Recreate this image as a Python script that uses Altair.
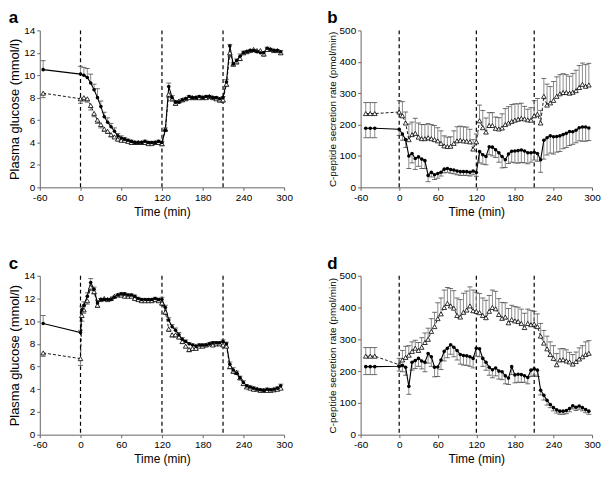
import altair as alt
import pandas as pd

# ---------------- data ----------------
T_GLU = [-55, 0, 5, 10, 15, 20, 25, 30, 35, 40, 45, 50, 55, 60, 65, 70, 75, 80, 85, 90,
         95, 100, 105, 110, 115, 120, 125, 130, 135, 140, 145, 150, 155, 160, 165, 170,
         175, 180, 185, 190, 195, 200, 205, 210, 215, 220, 225, 230, 235, 240, 245, 250,
         255, 260, 265, 270, 275, 280, 285, 290, 295]
T_C = [-55, 0, 2, 5, 10, 15, 20, 25, 30, 35, 40, 45, 50, 55, 60, 65, 70, 75, 80, 85, 90,
       95, 100, 105, 110, 115, 120, 125, 130, 135, 140, 145, 150, 155, 160, 165, 170,
       175, 180, 185, 190, 195, 200, 205, 210, 215, 220, 225, 230, 235, 240, 245, 250,
       255, 260, 265, 270, 275, 280, 285, 290, 295]
T_CP = [-52, -45, -38, 0, 5, 10, 15, 20, 25, 30, 35, 40, 45, 50, 55, 60, 65, 70, 75, 80,
        85, 90, 95, 100, 105, 110, 115, 120, 125, 130, 135, 140, 145, 150, 155, 160, 165,
        170, 175, 180, 185, 190, 195, 200, 205, 210, 215, 220, 225, 230, 235, 240, 245,
        250, 255, 260, 265, 270, 275, 280, 285, 290, 295]

# panel a: plasma glucose
A_FILLED = [10.5, 10.1, 10.0, 9.8, 9.3, 8.7, 8.0, 7.2, 6.3, 5.8, 5.4, 5.0, 4.6, 4.4, 4.3, 4.2,
            4.1, 4.0, 4.0, 4.0, 4.1, 4.0, 4.0, 4.0, 4.1, 4.0, 5.1, 9.0, 8.0, 7.6, 7.6, 7.8,
            7.9, 8.1, 8.0, 8.0, 8.1, 8.0, 8.1, 8.1, 8.0, 8.0, 7.9, 8.0, 9.4, 12.6, 11.0, 11.3,
            11.7, 12.0, 12.1, 12.2, 12.2, 12.1, 12.0, 12.0, 12.4, 12.3, 12.2, 12.2, 12.1]
A_FILLED_ERR = [0.8, 0.7, 0.7, 0.8, 0.8, 0.5, 0.8, 0.5, 0.4, 0.4, 0.3, 0.3, 0.2, 0.2, 0.15,
                0.1, 0.1, 0.1, 0.1, 0.1, 0.1, 0.1, 0.1, 0.1, 0.1, 0.1, 0.2, 0.3, 0.2, 0.15,
                0.1, 0.1, 0.1, 0.1, 0.1, 0.1, 0.1, 0.1, 0.1, 0.1, 0.1, 0.1, 0.1, 0.1, 0.2,
                0.15, 0.15, 0.15, 0.2, 0.15, 0.1, 0.1, 0.1, 0.1, 0.1, 0.1, 0.1, 0.1, 0.1,
                0.1, 0.1]
A_TRI = [8.4, 7.9, 8.0, 7.9, 7.3, 6.6, 6.0, 5.6, 5.2, 5.0, 4.7, 4.5, 4.3, 4.2, 4.2, 4.1, 4.0,
         4.0, 4.0, 4.0, 4.0, 3.9, 3.9, 4.0, 4.0, 3.9, 5.2, 8.3, 7.9, 7.5, 7.7, 7.8, 7.9, 8.0,
         8.0, 8.0, 8.0, 8.0, 8.0, 8.1, 8.0, 7.9, 7.8, 7.8, 9.2, 12.0, 11.0, 11.2, 11.5, 12.0,
         12.1, 12.2, 12.3, 12.2, 12.2, 11.9, 12.3, 12.3, 12.2, 12.2, 12.0]
A_TRI_ERR = [0.4, 0.4, 0.3, 0.3, 0.4, 0.3, 0.3, 0.3, 0.2, 0.2, 0.2, 0.15, 0.15, 0.1, 0.1, 0.1,
             0.1, 0.1, 0.1, 0.1, 0.1, 0.1, 0.1, 0.1, 0.1, 0.2, 0.2, 0.3, 0.2, 0.2, 0.1, 0.1,
             0.1, 0.1, 0.1, 0.1, 0.1, 0.1, 0.1, 0.1, 0.1, 0.1, 0.2, 0.2, 0.2, 0.3, 0.2, 0.2,
             0.2, 0.15, 0.1, 0.1, 0.1, 0.1, 0.1, 0.2, 0.1, 0.1, 0.1, 0.1, 0.15]

# panel c: plasma glucose
C_FILLED = [9.8, 9.0, 11.0, 11.4, 12.2, 13.4, 12.8, 11.6, 11.9, 11.9, 11.9, 11.9, 12.1, 12.3,
            12.4, 12.4, 12.3, 12.3, 12.2, 12.0, 11.9, 11.9, 11.9, 11.9, 12.0, 11.9, 11.9,
            11.2, 10.1, 9.5, 9.2, 8.8, 8.4, 8.2, 8.0, 7.9, 7.8, 7.9, 7.9, 7.9, 8.0, 8.1, 8.1,
            8.1, 8.2, 8.0, 6.2, 5.7, 5.4, 5.0, 4.6, 4.3, 4.2, 4.1, 4.0, 3.95, 3.9, 4.0, 3.95,
            4.0, 4.1, 4.3]
C_FILLED_ERR = [0.7, 0.2, 0.3, 0.3, 0.3, 0.35, 0.2, 0.2, 0.1, 0.1, 0.1, 0.1, 0.1, 0.1, 0.1,
                0.1, 0.1, 0.1, 0.1, 0.1, 0.1, 0.1, 0.1, 0.1, 0.1, 0.1, 0.2, 0.2, 0.2, 0.2,
                0.2, 0.2, 0.15, 0.15, 0.1, 0.1, 0.1, 0.1, 0.1, 0.1, 0.1, 0.1, 0.1, 0.1, 0.15,
                0.15, 0.2, 0.2, 0.2, 0.15, 0.15, 0.1, 0.1, 0.1, 0.1, 0.1, 0.1, 0.1, 0.1, 0.1,
                0.1, 0.15]
C_TRI = [7.2, 6.7, 10.5, 11.0, 11.8, 13.0, 12.6, 11.4, 11.9, 12.0, 11.9, 12.0, 12.2, 12.3,
         12.3, 12.2, 12.2, 12.2, 12.0, 11.9, 11.8, 11.8, 11.8, 11.8, 11.9, 11.8, 11.6, 10.8,
         9.3, 8.8, 8.8, 8.6, 8.2, 7.8, 7.5, 7.6, 7.6, 7.8, 7.8, 7.9, 8.0, 7.9, 8.0, 8.0, 7.9,
         7.8, 6.0, 5.6, 5.5, 5.0, 4.5, 4.2, 4.1, 4.0, 4.0, 3.9, 3.9, 3.9, 3.9, 3.95, 4.0, 4.1]
C_TRI_ERR = [0.3, 0.6, 0.5, 0.3, 0.3, 0.3, 0.2, 0.2, 0.1, 0.1, 0.1, 0.1, 0.1, 0.1, 0.1, 0.1,
             0.1, 0.1, 0.1, 0.1, 0.1, 0.1, 0.1, 0.1, 0.1, 0.1, 0.2, 0.2, 0.2, 0.2, 0.2, 0.15,
             0.15, 0.15, 0.2, 0.15, 0.1, 0.1, 0.1, 0.1, 0.1, 0.1, 0.1, 0.1, 0.1, 0.1, 0.2, 0.2,
             0.2, 0.15, 0.15, 0.1, 0.1, 0.1, 0.1, 0.1, 0.1, 0.1, 0.1, 0.1, 0.1, 0.1]

# panel b: C-peptide secretion rate
B_FILLED = [188, 188, 188,
            185, 170, 152, 100, 108, 92, 97, 90, 85, 38,
            48, 40, 44, 48, 58, 60, 57, 55, 52, 50,
            50, 50, 48, 52, 47, 114, 104, 98, 129, 128,
            120, 110, 98, 88, 106, 115, 116, 117, 119, 116,
            110, 110, 112, 108, 88, 150, 158, 164, 161, 162,
            164, 168, 172, 178, 177, 182, 190, 192, 192, 189]
B_FILLED_ERR = [30, 30, 30,
                20, 20, 25, 40, 30, 35, 30, 30, 25, 20,
                15, 15, 15, 12, 12, 12, 12, 12, 12, 12,
                12, 12, 12, 12, 12, 36, 30, 26, 25, 28,
                25, 30, 36, 25, 30, 35, 38, 40, 40, 38,
                35, 30, 25, 25, 40, 60, 55, 55, 55, 50,
                50, 45, 45, 45, 40, 40, 42, 45, 45, 40]
B_TRI = [235, 235, 235,
         240, 228, 205, 152, 168, 172, 160, 155, 155, 158,
         155, 152, 148, 140, 132, 130, 131, 140, 148, 150,
         148, 147, 145, 122, 145, 212, 190, 176, 197, 197,
         188, 186, 189, 200, 205, 210, 214, 217, 220, 218,
         215, 214, 228, 233, 205, 290, 262, 269, 277, 290,
         298, 302, 302, 300, 303, 308, 318, 328, 322, 326]
B_TRI_ERR = [35, 35, 35,
             36, 45, 35, 50, 40, 48, 45, 45, 45, 45,
             45, 45, 42, 40, 32, 30, 30, 40, 45, 45,
             45, 45, 40, 30, 25, 50, 55, 45, 41, 41,
             36, 36, 45, 51, 52, 54, 52, 49, 48, 40,
             34, 40, 48, 50, 40, 57, 67, 52, 60, 62,
             61, 60, 57, 54, 60, 65, 70, 68, 69, 69]

# panel d: C-peptide secretion rate
D_FILLED = [214, 214, 214,
            215, 218, 212, 152, 228, 233, 240, 232, 228, 255,
            245, 212, 213, 235, 262, 272, 283, 275, 265, 252,
            249, 248, 245, 240, 272, 270, 240, 228, 212, 204,
            210, 200, 198, 185, 178, 214, 188, 190, 189, 185,
            180, 203, 207, 203, 140, 124, 108, 95, 85, 78,
            74, 74, 76, 82, 91, 86, 90, 85, 79, 74]
D_FILLED_ERR = [25, 25, 25,
                15, 20, 25, 25, 25, 25, 25, 25, 30, 30,
                30, 30, 30, 30, 30, 30, 30, 30, 30, 30,
                30, 30, 30, 30, 25, 25, 25, 25, 25, 25,
                25, 25, 25, 25, 20, 25, 25, 25, 25, 20,
                20, 20, 20, 20, 15, 15, 15, 10, 10, 10,
                10, 10, 10, 10, 10, 10, 10, 10, 10, 10]
D_TRI = [247, 247, 247,
         220, 235, 243, 250, 262, 272, 265, 275, 290, 300,
         325, 340, 365, 380, 400, 413, 405, 398, 375, 370,
         385, 392, 405, 390, 388, 384, 375, 368, 388, 400,
         396, 378, 366, 370, 352, 362, 358, 356, 350, 337,
         350, 346, 348, 340, 310, 288, 270, 252, 240, 220,
         235, 236, 232, 229, 222, 230, 238, 245, 252, 256]
D_TRI_ERR = [27, 27, 27,
             20, 30, 35, 30, 30, 25, 25, 30, 30, 35,
             40, 45, 50, 50, 55, 50, 55, 55, 55, 55,
             60, 60, 60, 65, 60, 60, 55, 55, 50, 55,
             55, 50, 50, 45, 45, 45, 45, 45, 45, 45,
             45, 45, 40, 40, 40, 40, 40, 40, 40, 35,
             35, 35, 35, 30, 30, 30, 35, 35, 40, 40]

X_TICKS = [-60, 0, 60, 120, 180, 240, 300]
GLU_TICKS = [0, 2, 4, 6, 8, 10, 12, 14]
CP_TICKS = [0, 100, 200, 300, 400, 500]
PHASES = [0, 120, 210]

FONT = "Liberation Sans"


def panel(letter, t, fv, fe, tv, te, glucose, ytitle, ydom, yticks, w, h, ytsize):
    n = len(t)
    assert len(fv) == n and len(fe) == n and len(tv) == n and len(te) == n, letter
    if glucose:
        f_end = [v + e for v, e in zip(fv, fe)]
        t_end = [v - e for v, e in zip(tv, te)]
    else:
        f_end = [v - e for v, e in zip(fv, fe)]
        t_end = [v + e for v, e in zip(tv, te)]
    df = pd.DataFrame({
        "t": list(t) + list(t),
        "v": list(fv) + list(tv),
        "end": f_end + t_end,
        "s": ["f"] * n + ["t"] * n,
    })
    xs = alt.Scale(domain=[-60, 300], nice=False, zero=False)
    ys = alt.Scale(domain=ydom, nice=False)
    xax = alt.Axis(values=X_TICKS, title="Time (min)", labelFlush=False,
                   labelExpr="'' + datum.value")
    yax = alt.Axis(values=yticks, title=ytitle, titleFontSize=ytsize)
    X = alt.X("t:Q", scale=xs, axis=xax)

    base = alt.Chart(df)
    vlines = alt.Chart(pd.DataFrame({"t": PHASES})).mark_rule(
        color="black", strokeDash=[4, 3], strokeWidth=1.2
    ).encode(x=X)
    bars = base.mark_rule(color="#8c8c8c", strokeWidth=1).encode(
        x=X, y=alt.Y("v:Q", scale=ys, axis=yax), y2="end:Q")
    caps = base.mark_tick(orient="horizontal", color="#333333", size=5, thickness=1).encode(
        x=X, y=alt.Y("end:Q", scale=ys, axis=yax))
    fline = base.transform_filter(alt.datum.s == "f").mark_line(
        color="black", strokeWidth=1.1).encode(x=X, y=alt.Y("v:Q", scale=ys, axis=yax))
    tline = base.transform_filter(alt.datum.s == "t").mark_line(
        color="black", strokeWidth=0.9, strokeDash=[3, 2]).encode(
        x=X, y=alt.Y("v:Q", scale=ys, axis=yax))
    fpts = base.transform_filter(alt.datum.s == "f").mark_point(
        shape="circle", filled=True, size=13, color="black", opacity=1).encode(
        x=X, y=alt.Y("v:Q", scale=ys, axis=yax))
    tpts = base.transform_filter(alt.datum.s == "t").mark_point(
        shape="triangle-up", filled=True, fill="white", stroke="black", strokeWidth=0.8,
        size=22, opacity=1).encode(x=X, y=alt.Y("v:Q", scale=ys, axis=yax))

    return alt.layer(vlines, bars, caps, tline, fline, tpts, fpts).properties(
        width=w, height=h,
        title=alt.TitleParams(letter, anchor="start", frame="bounds", fontSize=17,
                              fontWeight="bold", font=FONT, offset=-2, color="black"),
    )


pa = panel("a", T_GLU, A_FILLED, A_FILLED_ERR, A_TRI, A_TRI_ERR, True,
           "Plasma glucose (mmol/l)", [0, 14], GLU_TICKS, 246, 158, 13)
pb = panel("b", T_CP, B_FILLED, B_FILLED_ERR, B_TRI, B_TRI_ERR, False,
           "C-peptide secretion rate (pmol/min)", [0, 500], CP_TICKS, 233, 158, 10)
pc = panel("c", T_C, C_FILLED, C_FILLED_ERR, C_TRI, C_TRI_ERR, True,
           "Plasma glucose (mmol/l)", [0, 14], GLU_TICKS, 246, 160, 13)
pd_ = panel("d", T_CP, D_FILLED, D_FILLED_ERR, D_TRI, D_TRI_ERR, False,
            "C-peptide secretion rate (pmol/min)", [0, 500], CP_TICKS, 233, 160, 10)

row1 = alt.hconcat(pa, pb, spacing=34)
row2 = alt.hconcat(pc, pd_, spacing=34)

chart = alt.vconcat(row1, row2, spacing=38).properties(
    padding={"left": 0, "top": 0, "right": 0, "bottom": 0},
    background="white",
).configure_view(stroke=None).configure_axis(
    labelFont=FONT, titleFont=FONT, labelFontSize=10, labelColor="black",
    titleColor="black", titleFontWeight="normal", domainColor="#666666",
    tickColor="#666666", tickSize=3, labelPadding=2, grid=False,
).configure_axisX(titleFontSize=12, titlePadding=4).configure_axisY(titlePadding=2)

chart.save("out.html", embed_options={"renderer": "svg", "actions": False})
